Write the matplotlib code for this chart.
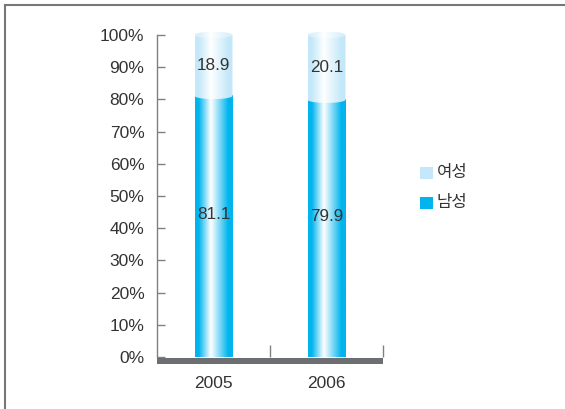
import numpy as np
import matplotlib
matplotlib.use("Agg")
import matplotlib.pyplot as plt
from matplotlib.colors import LinearSegmentedColormap
from matplotlib.path import Path
from matplotlib.patches import PathPatch, Rectangle, Ellipse
from matplotlib.lines import Line2D

years = ["2005", "2006"]
male = [81.1, 79.9]     # 남성
female = [18.9, 20.1]   # 여성
yticks = list(range(0, 101, 10))

plt.rcParams["font.family"] = ["Liberation Sans", "Noto Sans CJK KR", "DejaVu Sans"]

BLUE = "#00b4ee"
LIGHT = "#c4e8f9"
TEXT = "#333333"
GRAY = "#808080"

YTOP = 103  # headroom above 100% for the cylinder caps
fig = plt.figure(figsize=(5.65, 4.09), dpi=100)
ax_h = 322 * YTOP / 100
ax = fig.add_axes([157 / 565, 1 - 357 / 409, 226 / 565, ax_h / 409])
ax.set_xlim(0, 2)
ax.set_ylim(0, YTOP)

blue_cmap = LinearSegmentedColormap.from_list(
    "cyl_blue", [(0, BLUE), (0.1, BLUE), (0.42, "#ffffff"), (0.88, BLUE), (1, BLUE)])
light_cmap = LinearSegmentedColormap.from_list(
    "cyl_light", [(0, LIGHT), (0.1, LIGHT), (0.42, "#ffffff"), (0.88, LIGHT), (1, LIGHT)])
grad = np.linspace(0, 1, 256).reshape(1, -1)

bw = 0.336
eh = 1.0  # half height of the elliptical rim, in data units


def cylinder_path(x0, x1, y0, y1):
    t = np.linspace(0, np.pi, 60)
    cx, rx = (x0 + x1) / 2, (x1 - x0) / 2
    # bottom rim: left -> right, bulging downward
    bx = cx - rx * np.cos(t)
    by = y0 - eh * np.sin(t)
    # top rim: right -> left, bulging upward
    tx = cx + rx * np.cos(t)
    ty = y1 + eh * np.sin(t)
    verts = np.concatenate([np.column_stack([bx, by]), np.column_stack([tx, ty]), [[bx[0], by[0]]]])
    codes = [Path.MOVETO] + [Path.LINETO] * (len(verts) - 2) + [Path.CLOSEPOLY]
    return Path(verts, codes)


for i, (m, f) in enumerate(zip(male, female)):
    xc = i + 0.5
    x0, x1 = xc - bw / 2, xc + bw / 2
    # male segment
    ax.imshow(grad, cmap=blue_cmap, aspect="auto", extent=[x0, x1, 0, m],
              interpolation="bilinear", zorder=2)
    # female segment with rounded rims
    top = m + f
    im = ax.imshow(grad, cmap=light_cmap, aspect="auto",
                   extent=[x0, x1, m - eh, top + eh], interpolation="bilinear", zorder=3)
    clip = PathPatch(cylinder_path(x0, x1, m, top), transform=ax.transData,
                     facecolor="none", edgecolor="none")
    ax.add_patch(clip)
    im.set_clip_path(clip)
    # lighter top face of the cylinder
    ax.add_patch(Ellipse((xc, top), bw, 2 * eh, facecolor="white", alpha=0.35,
                         edgecolor="none", zorder=4))
    # value labels
    ax.text(xc, m * 0.545, f"{m:.1f}", ha="center", va="center", fontsize=12.3, color=TEXT, zorder=5)
    ax.text(xc, m + f / 2, f"{f:.1f}", ha="center", va="center", fontsize=12.3, color=TEXT, zorder=5)

# restore the axes limits after adding images
ax.set_xlim(0, 2)
ax.set_ylim(0, YTOP)

# axes styling
for s in ["top", "right", "bottom"]:
    ax.spines[s].set_visible(False)
ax.spines["left"].set_color(GRAY)
ax.spines["left"].set_linewidth(1.0)
ax.spines["left"].set_bounds(0, 100)
ax.set_yticks(yticks)
ax.set_yticklabels([f"{v}%" for v in yticks])
ax.tick_params(axis="y", direction="in", length=6, width=1.0, color=GRAY,
               labelsize=12.5, labelcolor=TEXT, pad=9)
ax.set_xticks([1, 2])
ax.set_xticklabels([])
ax.tick_params(axis="x", direction="in", length=9, width=1.0, color=GRAY, bottom=True)
for xc, lab in zip([0.5, 1.5], years):
    ax.text(xc, -8.2, lab, ha="center", va="center", fontsize=12.5, color=TEXT,
            transform=ax.transData, clip_on=False)

# thick baseline
ax.add_patch(Rectangle((0, -0.2), 2, -2.1, facecolor="#6d6e71", edgecolor="none",
                       clip_on=False, zorder=6))
ax.set_facecolor("none")

# legend
fig.patches.append(Rectangle((420 / 565, 1 - 179 / 409), 13 / 565, 12 / 409,
                             transform=fig.transFigure, facecolor=LIGHT, edgecolor="none"))
fig.patches.append(Rectangle((420 / 565, 1 - 209 / 409), 13 / 565, 12 / 409,
                             transform=fig.transFigure, facecolor=BLUE, edgecolor="none"))
fig.text(437 / 565, 1 - 173 / 409, "여성", fontsize=12, color=TEXT, va="center", ha="left",
         family=["Noto Sans CJK KR"])
fig.text(437 / 565, 1 - 203 / 409, "남성", fontsize=12, color=TEXT, va="center", ha="left",
         family=["Noto Sans CJK KR"])

# frame lines along the top and left edges
fig.add_artist(Line2D([5 / 565, 1], [1 - 5 / 409, 1 - 5 / 409], transform=fig.transFigure,
                      color="#777777", linewidth=1.5))
fig.add_artist(Line2D([5 / 565, 5 / 565], [0, 1 - 5 / 409], transform=fig.transFigure,
                      color="#777777", linewidth=1.5))

fig.savefig("out.png", dpi=100)
